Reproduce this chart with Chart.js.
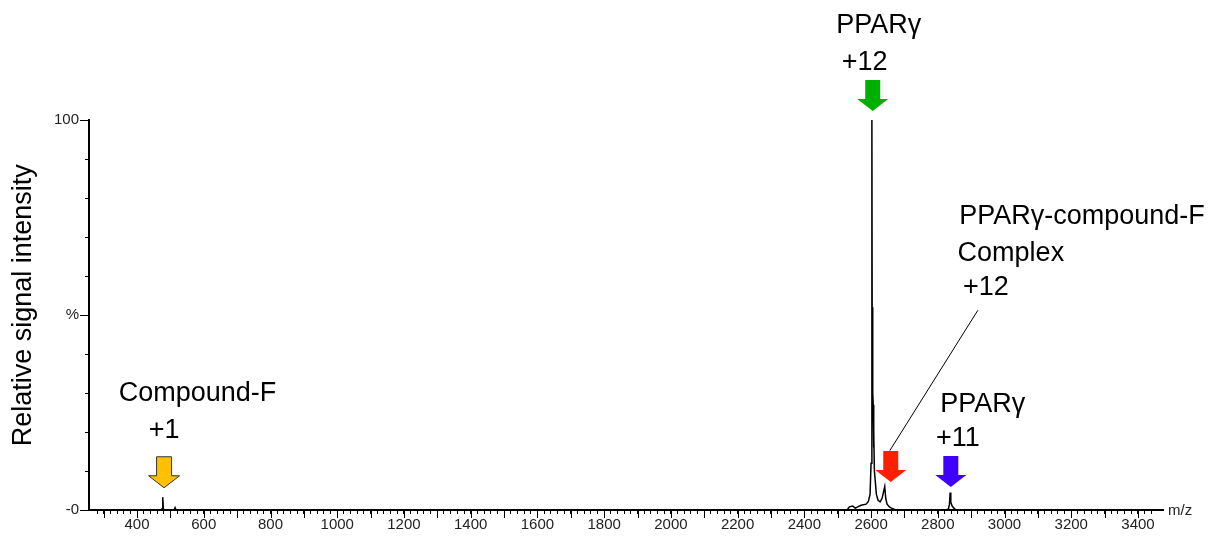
<!DOCTYPE html>
<html>
<head>
<meta charset="utf-8">
<script src="https://cdn.jsdelivr.net/npm/chart.js@4"></script>
<style>
  html, body { margin: 0; padding: 0; background: #fff; }
  canvas { display: block; }
</style>
</head>
<body>
<canvas id="spectrum" width="1215" height="536"></canvas>
<script>
// spectrum (m/z, relative intensity in %)
var mz = [256, 472, 475, 477, 479, 482, 511, 514, 517,
  2528, 2535, 2545, 2553, 2560, 2570, 2585, 2592, 2597, 2600, 2602.5, 2603.5, 2604.5, 2605.5, 2606.5, 2607.5, 2608.5,
  2610, 2612, 2616, 2621, 2627, 2633, 2637, 2641, 2644, 2648, 2655, 2665, 2675,
  2826, 2832, 2835, 2837, 2839, 2843, 2850, 2858, 3475];
var intensity = [0, 0, 0.3, 3.3, 0.3, 0, 0, 0.6, 0,
  0, 0.8, 1.0, 0.5, 0.8, 1.2, 1.5, 2.2, 4, 12, 100, 38, 52, 30, 27, 16, 20,
  10, 8, 4, 2.5, 2.1, 3, 4.5, 6, 3, 1.5, 0.8, 0.3, 0,
  0, 0.3, 1.5, 4.5, 2, 1, 0.3, 0, 0];

// x axis labels every 200, y axis labels
var xLabelValues = [400, 600, 800, 1000, 1200, 1400, 1600, 1800, 2000, 2200, 2400, 2600, 2800, 3000, 3200, 3400];
var yLabels = {100: "100", 50: "%", 0: "-0"};
var yTitle = "Relative signal intensity";

// arrows: m/z, tip height in %
var arrowMz = [481, 2605, 2659, 2839];
var arrowTip = [5.7, 102.3, 7.2, 5.9];
var arrowColors = ["#ffc000", "#00b000", "#ff2000", "#4000ff"];

// annotation texts
var labelText = ["Compound-F", "+1", "PPARγ", "+12", "PPARγ-compound-F", "Complex", "+12", "PPARγ", "+11"];
var labelMz = [581, 481, 2623, 2581, 3232, 3019, 2944, 2935, 2860];
var labelY = [29.8, 20.3, 124.2, 114.7, 75.3, 65.8, 57.1, 27.0, 18.3];

// leader line for the complex label
var leaderMz = [2920, 2656];
var leaderY = [51.2, 15.2];

var points = [];
for (var i = 0; i < mz.length; i++) {
    points.push({x: mz[i], y: intensity[i]});
}

var FONT = "'Liberation Sans', Arial, sans-serif";

var annotations = {
    id: "annotations",
    afterDraw: function(chart) {
        var ctx = chart.ctx;
        var xs = chart.scales.x;
        var ys = chart.scales.y;
        var area = chart.chartArea;
        ctx.save();

        // longer ticks at the labelled positions
        ctx.strokeStyle = "#000";
        ctx.lineWidth = 1;
        ctx.beginPath();
        xs.ticks.forEach(function(t) {
            if (t.value % 100 === 0) {
                var px = Math.round(xs.getPixelForValue(t.value)) + 0.5;
                ctx.moveTo(px, area.bottom);
                ctx.lineTo(px, area.bottom + 8);
            }
        });
        ys.ticks.forEach(function(t) {
            if (yLabels[t.value] !== undefined) {
                var py = Math.round(ys.getPixelForValue(t.value)) + 0.5;
                ctx.moveTo(area.left - 9, py);
                ctx.lineTo(area.left, py);
            }
        });
        ctx.stroke();

        // leader line
        ctx.beginPath();
        ctx.moveTo(xs.getPixelForValue(leaderMz[0]), ys.getPixelForValue(leaderY[0]));
        ctx.lineTo(xs.getPixelForValue(leaderMz[1]), ys.getPixelForValue(leaderY[1]));
        ctx.stroke();

        // block arrows
        for (var a = 0; a < arrowMz.length; a++) {
            var cx = xs.getPixelForValue(arrowMz[a]);
            var tip = ys.getPixelForValue(arrowTip[a]);
            ctx.beginPath();
            ctx.moveTo(cx, tip);
            ctx.lineTo(cx - 15.5, tip - 12);
            ctx.lineTo(cx - 7.5, tip - 12);
            ctx.lineTo(cx - 7.5, tip - 31);
            ctx.lineTo(cx + 7.5, tip - 31);
            ctx.lineTo(cx + 7.5, tip - 12);
            ctx.lineTo(cx + 15.5, tip - 12);
            ctx.closePath();
            ctx.fillStyle = arrowColors[a];
            ctx.fill();
            if (a === 0) {
                ctx.strokeStyle = "#333";
                ctx.lineWidth = 1;
                ctx.stroke();
            }
        }

        // texts
        ctx.fillStyle = "#000";
        ctx.font = "27px " + FONT;
        ctx.textAlign = "center";
        ctx.textBaseline = "middle";
        for (var k = 0; k < labelText.length; k++) {
            ctx.fillText(labelText[k], xs.getPixelForValue(labelMz[k]), ys.getPixelForValue(labelY[k]));
        }

        // y axis title
        ctx.save();
        ctx.translate(24, ys.getPixelForValue(52.5));
        ctx.rotate(-Math.PI / 2);
        ctx.fillText(yTitle, 0, 0);
        ctx.restore();

        ctx.font = "15px " + FONT;
        ctx.fillStyle = "#222";
        ctx.textAlign = "left";
        ctx.fillText("m/z", area.right + 5, area.bottom + 1);
        ctx.restore();
    }
};

var ctx = document.getElementById("spectrum");
var chart = new Chart(ctx, {
    type: "line",
    data: {
        datasets: [{
            data: points,
            borderColor: "#000",
            borderWidth: 1.5,
            pointRadius: 0,
            tension: 0,
            fill: false
        }]
    },
    options: {
        responsive: false,
        animation: false,
        devicePixelRatio: 1,
        layout: {
            padding: {left: 0, right: 52, top: 120, bottom: 0}
        },
        plugins: {
            legend: {display: false},
            tooltip: {enabled: false}
        },
        scales: {
            x: {
                type: "linear",
                min: 256,
                max: 3475,
                afterFit: function(scale) { scale.height = 26; },
                afterBuildTicks: function(scale) {
                    scale.ticks = scale.ticks.filter(function(t) { return t.value % 20 === 0; });
                },
                border: {color: "#000", width: 2},
                grid: {drawOnChartArea: false, tickLength: 4, color: "#000", tickWidth: 1},
                ticks: {
                    stepSize: 20,
                    autoSkip: false,
                    maxRotation: 0,
                    padding: 2,
                    color: "#222",
                    font: {family: FONT, size: 15},
                    callback: function(v) {
                        return xLabelValues.indexOf(v) >= 0 ? String(v) : "";
                    }
                }
            },
            y: {
                min: 0,
                max: 100,
                afterFit: function(scale) { scale.width = 89; },
                border: {color: "#000", width: 2},
                grid: {drawOnChartArea: false, tickLength: 4, color: "#000", tickWidth: 1},
                ticks: {
                    stepSize: 10,
                    autoSkip: false,
                    padding: 6,
                    color: "#222",
                    font: {family: FONT, size: 15},
                    callback: function(v) {
                        return yLabels[v] !== undefined ? yLabels[v] : "";
                    }
                }
            }
        }
    },
    plugins: [annotations]
});
</script>
</body>
</html>
